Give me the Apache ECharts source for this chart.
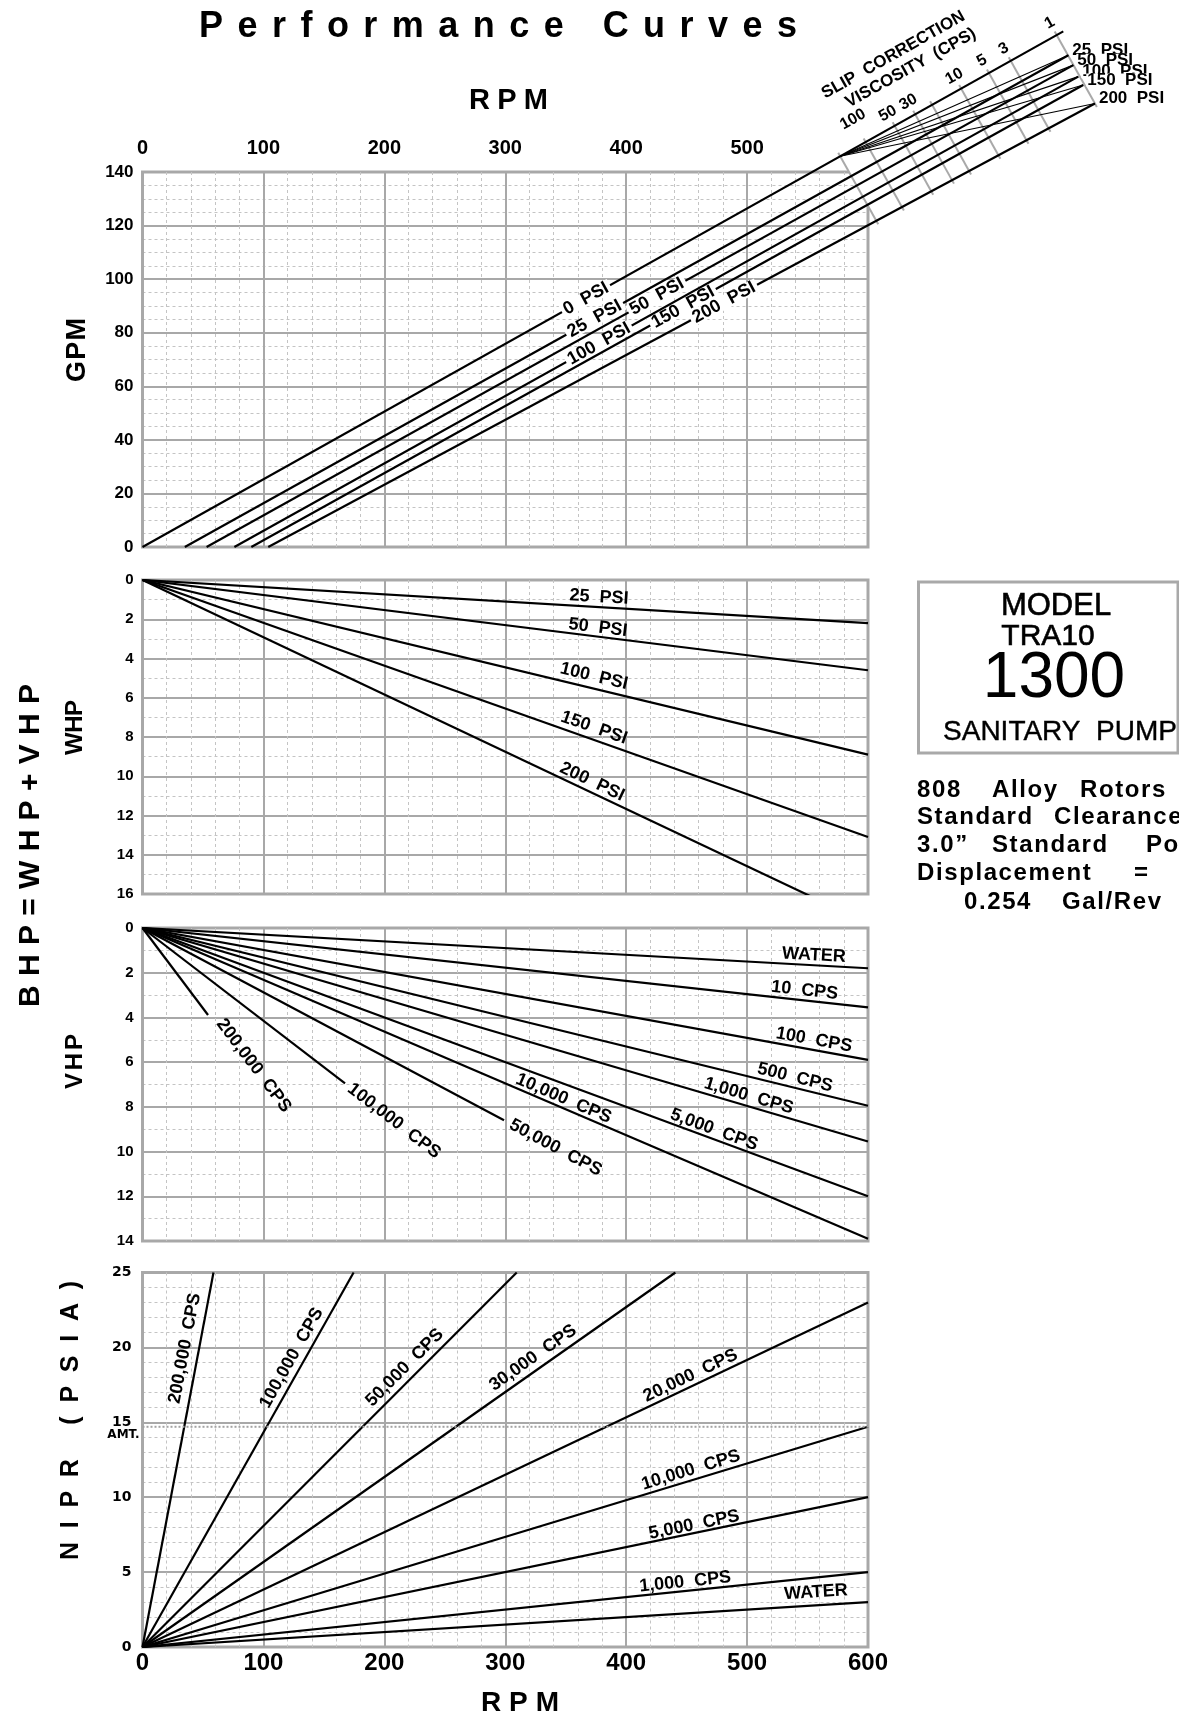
<!DOCTYPE html>
<html lang="en">
<head>
<meta charset="utf-8">
<title>Performance Curves – Model TRA10 1300 Sanitary Pump</title>
<script src="https://cdn.jsdelivr.net/npm/echarts/dist/echarts.min.js"></script>
<style>
  html, body { margin: 0; padding: 0; background: #ffffff; }
  #chart { width: 1179px; height: 1717px; }
</style>
</head>
<body>
<div id="chart"></div>
<script>
/* ================= chart data ================= */

// RPM axis labels
const rpmTopTicks = [0, 100, 200, 300, 400, 500];
const rpmBottomTicks = [0, 100, 200, 300, 400, 500, 600];

// Capacity vs speed at each differential pressure (water):
// RPM where flow is zero, and the far end of each line in the slip-correction field
const gpmPsi = ['0', '25', '50', '100', '150', '200'];
const gpmZeroFlowRpm = [0, 35, 53, 76, 90, 104];
const gpmEndRpm = [761.5, 765.7, 769.8, 773.9, 778.0, 787.7];
const gpmEndFlow = [192.5, 183.6, 179.9, 175.6, 172.5, 165.6];

// Slip-correction viscosity scale (cps), positioned by RPM along the 0 PSI line
const viscTickLabels = ['', '100', '50', '30', '', '10', '5', '3', '1'];
const viscTickRpm = [577, 598, 622, 639, 653, 677, 700, 718, 756];
const slipPivotRpm = 577;

// Water horsepower at 600 RPM
const whpPsi = ['25', '50', '100', '150', '200'];
const whpAt600 = [2.2, 4.6, 8.9, 13.1, 17.5];

// Viscous horsepower: end point of each line
const vhpVisc = ['WATER', '10', '100', '500', '1,000', '5,000', '10,000', '50,000', '100,000', '200,000'];
const vhpEndRpm = [600, 600, 600, 600, 600, 600, 600, 299, 167.5, 54.2];
const vhpEndHp = [1.8, 3.55, 5.9, 7.95, 9.55, 12.0, 13.9, 8.6, 6.95, 3.89];

// Net inlet pressure required: end point of each line
const niprVisc = ['WATER', '1,000', '5,000', '10,000', '20,000', '30,000', '50,000', '100,000', '200,000'];
const niprEndRpm = [600, 600, 600, 600, 600, 440.7, 309.5, 174.6, 58.7];
const niprEndPsia = [3.0, 5.0, 10.0, 14.7, 23.0, 25, 25, 25, 25];
const atmPsia = 14.7;

/* ================= layout & style ================= */

const FAM = '"Liberation Sans", Arial, Helvetica, sans-serif';
const WIDE = '"DejaVu Sans", Verdana, sans-serif';
const LABEL_FONT = 'bold 18px ' + FAM;
const GRID_MAJOR = '#a8a8a8';
const GRID_MINOR = '#c4c4c4';
const FRAME = '#a9a9a9';

const PLOT_LEFT = 142.5, PLOT_WIDTH = 725.5;
const panels = [
  { top: 172,    height: 375,   yMax: 140, yInt: 20, yMinor: 4, inverse: false, font: FAM,  size: 17, margin: 9 },
  { top: 580,    height: 314,   yMax: 16,  yInt: 2,  yMinor: 2, inverse: true,  font: FAM,  size: 15, margin: 9 },
  { top: 928,    height: 313,   yMax: 14,  yInt: 2,  yMinor: 2, inverse: true,  font: FAM,  size: 15, margin: 9 },
  { top: 1272.5, height: 374.5, yMax: 25,  yInt: 5,  yMinor: 5, inverse: false, font: WIDE, size: 14, margin: 11 }
];

// label placement along each line: [RPM of the label's foot on the line, offset above the line in px]
const gpmLabelAt  = [[366.8, 0], [374, 0], [425.5, 0], [377.5, 0], [447, 0], [480.9, 0]];
const whpLabelAt  = [[377, 10], [375.8, 9], [371, 12], [370.2, 11.5], [368.3, 10]];
const vhpLabelAt  = [[554.8, 10], [546.7, 10], [553.8, 10], [537.7, 10], [499, 10], [470.1, 9], [345.4, 9], [341.6, 0], [208, 0], [88, 6]];
const niprLabelAt = [[557.6, 13], [449.6, 9], [457.6, 8], [455.9, 10], [456.8, 10], [328.7, 12], [223.9, 12], [132, 12], [46.4, 14]];

/* ================= helpers ================= */

const gpmLine = i => [[gpmZeroFlowRpm[i], 0], [gpmEndRpm[i], gpmEndFlow[i]]];
const whpLine = i => [[0, 0], [600, whpAt600[i]]];
const vhpLine = i => [[0, 0], [vhpEndRpm[i], vhpEndHp[i]]];
const niprLine = i => [[0, 0], [niprEndRpm[i], niprEndPsia[i]]];

function valueOn(line, rpm) {
  const [a, b] = line;
  return a[1] + (b[1] - a[1]) * (rpm - a[0]) / (b[0] - a[0]);
}

const measureCtx = document.createElement('canvas').getContext('2d');
function textWidth(s, font) { measureCtx.font = font; return measureCtx.measureText(s).width; }

function textStyle(text, font, align, extra) {
  return Object.assign({
    text, font, fill: '#000',
    align: align || 'center', textAlign: align || 'center',
    verticalAlign: 'middle', textVerticalAlign: 'middle'
  }, extra || {});
}

// letter-spaced text spread evenly between start and end
function trackedText(str, start, end, cross, font, vertical) {
  const chars = Array.from(str);
  const widths = chars.map(c => textWidth(c, font));
  const total = widths.reduce((s, w) => s + w, 0);
  const gap = chars.length > 1 ? (Math.abs(end - start) - total) / (chars.length - 1) : 0;
  const out = [];
  let pos = start;
  chars.forEach((c, k) => {
    if (c !== ' ') {
      out.push(vertical
        ? { type: 'text', x: cross, y: pos, rotation: Math.PI / 2, z: 50, style: textStyle(c, font, 'left') }
        : { type: 'text', x: pos, y: cross, z: 50, style: textStyle(c, font, 'left') });
    }
    pos += (vertical ? -1 : 1) * (widths[k] + gap);
  });
  return out;
}

// a word set with a little extra space after every letter
function spacedWord(word, x, y, font, tracking) {
  const out = [];
  let pos = x;
  Array.from(word).forEach(c => {
    out.push({ type: 'text', x: pos, y, z: 50, style: textStyle(c, font, 'left') });
    pos += textWidth(c, font) + tracking;
  });
  return out;
}

/* ================= axes ================= */

const grids = panels.map(p => ({
  left: PLOT_LEFT, top: p.top, width: PLOT_WIDTH, height: p.height,
  show: true, borderColor: FRAME, borderWidth: 3, backgroundColor: 'transparent',
  containLabel: false, outerBoundsMode: 'none'
}));

const xAxes = panels.map((p, gi) => {
  let axisLabel = { show: false };
  if (gi === 0) {
    axisLabel = { show: true, margin: 14, fontFamily: FAM, fontWeight: 'bold', fontSize: 20, color: '#000',
      formatter: v => rpmTopTicks.includes(v) ? String(v) : '' };
  } else if (gi === 3) {
    axisLabel = { show: true, margin: 4, fontFamily: FAM, fontWeight: 'bold', fontSize: 24, color: '#000',
      formatter: v => rpmBottomTicks.includes(v) ? String(v) : '' };
  }
  return {
    type: 'value', gridIndex: gi, min: 0, max: 600, interval: 100,
    position: gi === 0 ? 'top' : 'bottom',
    axisLine: { show: false }, axisTick: { show: false }, axisLabel,
    splitLine: { show: true, lineStyle: { color: GRID_MAJOR, width: 2 } },
    minorTick: { show: false, splitNumber: 5 },
    minorSplitLine: { show: true, lineStyle: { color: GRID_MINOR, width: 1, type: [3, 3] } }
  };
});

const yAxes = panels.map((p, gi) => ({
  type: 'value', gridIndex: gi, min: 0, max: p.yMax, interval: p.yInt, inverse: p.inverse,
  axisLine: { show: false }, axisTick: { show: false },
  axisLabel: { show: true, margin: p.margin, fontFamily: p.font, fontWeight: 'bold', fontSize: p.size, color: '#000' },
  splitLine: { show: true, lineStyle: { color: GRID_MAJOR, width: 2 } },
  minorTick: { show: false, splitNumber: p.yMinor },
  minorSplitLine: { show: true, lineStyle: { color: GRID_MINOR, width: 1, type: [3, 3] } }
}));

/* ================= series ================= */

const series = [];
function addLine(gi, pts, style) {
  series.push({
    type: 'line', xAxisIndex: gi, yAxisIndex: gi, data: pts,
    symbol: 'none', showSymbol: false, silent: true, animation: false, z: 2,
    lineStyle: Object.assign({ color: '#000', width: 2.2 }, style || {})
  });
}

// straight segments that may run past the plot frame (capacity lines into the slip field)
function addSegments(gi, segs, width) {
  series.push({
    type: 'custom', xAxisIndex: gi, yAxisIndex: gi, silent: true, z: 2, clip: false,
    data: segs.map(s => [s[0][0], s[0][1], s[1][0], s[1][1]]),
    renderItem(params, api) {
      const a = api.coord([api.value(0), api.value(1)]);
      const b = api.coord([api.value(2), api.value(3)]);
      return { type: 'line', shape: { x1: a[0], y1: a[1], x2: b[0], y2: b[1] },
        style: { stroke: '#000', lineWidth: width, lineCap: 'butt' } };
    }
  });
}

addSegments(0, gpmPsi.map((_, i) => gpmLine(i)), 2.2);
addSegments(0, gpmPsi.slice(1).map((_, k) =>
  [[slipPivotRpm, valueOn(gpmLine(0), slipPivotRpm)], gpmLine(k + 1)[1]]), 1.1);

whpPsi.forEach((_, i) => addLine(1, whpLine(i)));
vhpVisc.forEach((_, i) => addLine(2, vhpLine(i)));
niprVisc.forEach((_, i) => addLine(3, niprLine(i)));
// atmospheric pressure
addLine(3, [[0, atmPsia], [600, atmPsia]], { color: '#a2a2a2', width: 2, type: [2, 2] });

// viscosity scale ticks, drawn perpendicular to the capacity lines
series.push({
  type: 'custom', xAxisIndex: 0, yAxisIndex: 0, silent: true, z: 1, clip: false,
  data: viscTickRpm.map(r => [r, valueOn(gpmLine(0), r)]),
  renderItem(params, api) {
    const i = params.dataIndex;
    const zero = gpmLine(0), last = gpmLine(gpmPsi.length - 1);
    const a = api.coord(zero[0]), b = api.coord(zero[1]);
    let dx = b[0] - a[0], dy = b[1] - a[1];
    const len = Math.hypot(dx, dy); dx /= len; dy /= len;
    const nx = -dy, ny = dx;               // perpendicular, pointing down-right
    const p = api.coord([api.value(0), api.value(1)]);
    const c = api.coord(last[0]), e = api.coord(last[1]);
    const ex = e[0] - c[0], ey = e[1] - c[1];
    const t = ((c[0] - p[0]) * ey - (c[1] - p[1]) * ex) / (nx * ey - ny * ex);
    const children = [];
    if (i === 0) {
      // the first tick trims the top-right corner of the plot frame
      const topY = api.coord([0, 140])[1], rightX = api.coord([600, 0])[0];
      const t1 = (topY - 3 - p[1]) / ny, t2 = (rightX + 3 - p[0]) / nx;
      children.push({ type: 'polygon', shape: { points: [
        [p[0] + t1 * nx, p[1] + t1 * ny], [rightX + 3, topY - 3], [p[0] + t2 * nx, p[1] + t2 * ny]
      ] }, style: { fill: '#fff' } });
    }
    children.push({ type: 'line',
      shape: { x1: p[0] - 4 * nx, y1: p[1] - 4 * ny, x2: p[0] + (t + 4) * nx, y2: p[1] + (t + 4) * ny },
      style: { stroke: FRAME, lineWidth: 2 } });
    const lab = viscTickLabels[i];
    if (lab) {
      const d = lab === '100' ? 26 : 14;
      children.push({ type: 'text', x: p[0] - d * nx, y: p[1] - d * ny, rotation: -Math.atan2(dy, dx),
        style: textStyle(lab, 'bold 16px ' + FAM) });
    }
    return { type: 'group', children };
  }
});

// pressure names at the ends of the capacity lines
series.push({
  type: 'custom', xAxisIndex: 0, yAxisIndex: 0, silent: true, z: 6, clip: false,
  data: gpmPsi.slice(1).map((_, k) => gpmLine(k + 1)[1]),
  renderItem(params, api) {
    const k = params.dataIndex + 1;
    const p = api.coord([api.value(0), api.value(1)]);
    return { type: 'text', x: p[0] + 3, y: p[1] - 5,
      style: textStyle(gpmPsi[k] + '  PSI', 'bold 17px ' + FAM, 'left',
        { backgroundColor: '#fff', lineHeight: 13, padding: [0, 1] }) };
  }
});

function lineLabels(gi, names, place, lineFn, back) {
  const specs = names.map((t, i) => ({ text: t, line: lineFn(i), rpm: place[i][0], d: place[i][1] }));
  series.push({
    type: 'custom', xAxisIndex: gi, yAxisIndex: gi, silent: true, z: 5, clip: false,
    data: specs.map(s => [s.rpm, valueOn(s.line, s.rpm)]),
    renderItem(params, api) {
      const s = specs[params.dataIndex];
      const pa = api.coord(s.line[0]), pb = api.coord(s.line[1]);
      let dx = pb[0] - pa[0], dy = pb[1] - pa[1];
      const len = Math.hypot(dx, dy); dx /= len; dy /= len;
      const p = api.coord([api.value(0), api.value(1)]);
      let nx = dy, ny = -dx;
      if (ny > 0) { nx = -nx; ny = -ny; }
      return { type: 'text', x: p[0] + s.d * nx, y: p[1] + s.d * ny, rotation: -Math.atan2(dy, dx),
        style: textStyle(s.text, LABEL_FONT, 'center',
          back ? { backgroundColor: '#fff', lineHeight: 14, padding: [0, 3] } : {}) };
    }
  });
}

lineLabels(0, gpmPsi.map(p => p + '  PSI'), gpmLabelAt, gpmLine, true);
lineLabels(1, whpPsi.map(p => p + '  PSI'), whpLabelAt, whpLine, false);
lineLabels(2, vhpVisc.map(v => v === 'WATER' ? v : v + '  CPS'), vhpLabelAt, vhpLine, false);
lineLabels(3, niprVisc.map(v => v === 'WATER' ? v : v + '  CPS'), niprLabelAt, niprLine, false);

// atmospheric marker
series.push({
  type: 'custom', xAxisIndex: 3, yAxisIndex: 3, silent: true, z: 5, clip: false,
  data: [[0, atmPsia]],
  renderItem(params, api) {
    const p = api.coord([api.value(0), api.value(1)]);
    return { type: 'text', x: p[0] - 3, y: p[1] + 8, style: textStyle('AMT.', 'bold 12px ' + WIDE, 'right') };
  }
});

/* ================= free text ================= */

const NOTE_FONT = 'bold 24px ' + FAM;
const NOTE_TRACK = 1.6;
const graphic = [].concat(
  trackedText('Performance Curves', 199, 797, 27, 'bold 36px ' + FAM, false),
  trackedText('RPM', 469, 548, 101, 'bold 29px ' + FAM, false),
  trackedText('RPM', 481, 559, 1703, 'bold 28px ' + FAM, false),
  trackedText('BHP=WHP+VHP', 1007, 684, 30.6, 'bold 30px ' + FAM, true),
  trackedText('GPM', 382, 318, 78, 'bold 27px ' + FAM, true),
  trackedText('WHP', 755, 700, 75.5, 'bold 24px ' + FAM, true),
  trackedText('VHP', 1089, 1034, 75.5, 'bold 24px ' + FAM, true),
  trackedText('NIPR (PSIA)', 1560, 1281, 71, 'bold 25px ' + FAM, true),
  [
    { type: 'text', x: 893.3, y: 55, rotation: 0.515, z: 50, style: textStyle('SLIP  CORRECTION', 'bold 17px ' + FAM) },
    { type: 'text', x: 910.8, y: 68, rotation: 0.507, z: 50, style: textStyle('VISCOSITY  (CPS)', 'bold 17px ' + FAM) },

    { type: 'rect', z: 50, shape: { x: 918.5, y: 582, width: 259.5, height: 171 },
      style: { fill: 'none', stroke: FRAME, lineWidth: 3 } },
    { type: 'text', x: 1056, y: 606, z: 50, style: textStyle('MODEL', '31px ' + FAM, 'center', { stroke: '#000', lineWidth: 0.6 }) },
    { type: 'text', x: 1048, y: 636.5, z: 50, style: textStyle('TRA10', '30px ' + FAM, 'center', { stroke: '#000', lineWidth: 0.6 }) },
    { type: 'text', x: 1054, y: 679.5, z: 50, style: textStyle('1300', '64px ' + FAM) },
    { type: 'text', x: 1060, y: 732.5, z: 50, style: textStyle('SANITARY  PUMP', '28px ' + FAM, 'center', { stroke: '#000', lineWidth: 0.4 }) }
  ],
  // specification notes
  spacedWord('808', 917, 790, NOTE_FONT, NOTE_TRACK),
  spacedWord('Alloy', 992, 790, NOTE_FONT, NOTE_TRACK),
  spacedWord('Rotors', 1080, 790, NOTE_FONT, NOTE_TRACK),
  spacedWord('Standard', 917, 817.5, NOTE_FONT, NOTE_TRACK),
  spacedWord('Clearances', 1054, 817.5, NOTE_FONT, NOTE_TRACK),
  spacedWord('3.0\u201D', 917, 845, NOTE_FONT, NOTE_TRACK),
  spacedWord('Standard', 992, 845, NOTE_FONT, NOTE_TRACK),
  spacedWord('Port', 1146, 845, NOTE_FONT, NOTE_TRACK),
  spacedWord('Displacement', 917, 873, NOTE_FONT, NOTE_TRACK),
  spacedWord('=', 1134, 873, NOTE_FONT, NOTE_TRACK),
  spacedWord('0.254', 964, 902, NOTE_FONT, NOTE_TRACK),
  spacedWord('Gal/Rev', 1062, 902, NOTE_FONT, NOTE_TRACK)
);

/* ================= render ================= */

const chart = echarts.init(document.getElementById('chart'), null, { renderer: 'canvas', width: 1179, height: 1717 });
chart.setOption({
  animation: false,
  backgroundColor: '#ffffff',
  grid: grids,
  xAxis: xAxes,
  yAxis: yAxes,
  series,
  graphic
});
</script>
</body>
</html>
